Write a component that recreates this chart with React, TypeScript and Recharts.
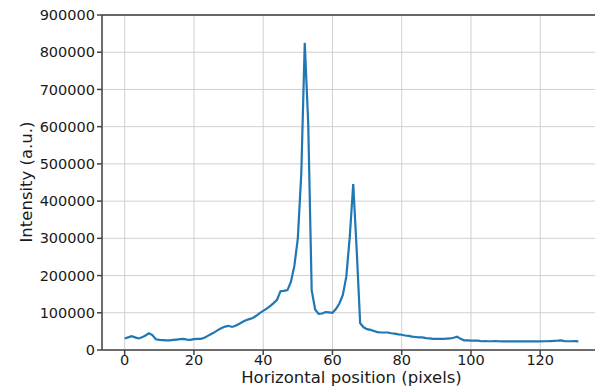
import { LineChart, Line, XAxis, YAxis, CartesianGrid, ReferenceLine, Label } from 'recharts'

// intensity profile, one value per pixel column (0..131)
const intensity = [
  31000, 34000, 37000, 34000, 31000, 34000, 39000, 45000, 40000, 29000,
  27000, 26500, 26000, 26000, 27000, 28000, 29000, 30000, 28000, 27000,
  29000, 30000, 30000, 33000, 38000, 43000, 48000, 54000, 59000, 63000,
  65000, 62000, 65000, 70000, 75000, 80000, 83000, 86000, 92000, 99000,
  105000, 111000, 118000, 126000, 135000, 158000, 159000, 161000, 183000, 226000,
  300000, 474000, 825000, 609000, 161000, 109000, 97000, 98000, 102000, 101000,
  100000, 110000, 125000, 148000, 197000, 304000, 446000, 269000, 72000, 61000,
  56000, 54000, 51000, 48000, 47000, 47000, 47000, 45000, 44000, 42000,
  41000, 39000, 38000, 36000, 35000, 34000, 34000, 32000, 31000, 30000,
  30000, 30000, 30000, 30500, 31000, 33000, 36000, 30000, 26000, 26000,
  25000, 25000, 25000, 23500, 24000, 23500, 23500, 24000, 23500, 23000,
  23000, 23000, 23000, 23000, 23000, 23000, 23000, 23000, 23000, 23000,
  23000, 23500, 23500, 24000, 24500, 25000, 26000, 24000, 23500, 23500,
  24000, 23000,
]

const xTicks = [0, 20, 40, 60, 80, 100, 120]
const yTicks = [0, 100000, 200000, 300000, 400000, 500000, 600000, 700000, 800000, 900000]

const data = intensity.map((v, i) => ({ pos: i, value: v }))

const font = "'DejaVu Sans', sans-serif"
const tick = { fontSize: 14.5, fill: '#1a1a1a', fontFamily: font }

const YTitle = () => (
  <text
    transform="translate(32,182) rotate(-90)"
    textAnchor="middle"
    fontSize={16.5}
    fontFamily={font}
    fill="#1a1a1a"
  >
    Intensity (a.u.)
  </text>
)

export default function App() {
  return (
    <div style={{ position: 'absolute', left: 0, top: 0, width: 595, height: 388, overflow: 'hidden', background: '#fff' }}>
      <LineChart width={601} height={388} data={data} margin={{ top: 15, right: 0, bottom: 0, left: 0 }}>
        <CartesianGrid stroke="#d0d0d0" strokeWidth={1} />
        <XAxis
          dataKey="pos"
          type="number"
          domain={[-6.55, 137.55]}
          ticks={xTicks}
          height={38}
          tick={tick}
          tickSize={5}
          tickMargin={0}
          stroke="#444"
          strokeWidth={1.5}
          allowDataOverflow
        >
          <Label
            value="Horizontal position (pixels)"
            position="insideBottom"
            offset={5}
            style={{ fontSize: 16.5, fill: '#1a1a1a', fontFamily: font }}
          />
        </XAxis>
        <YAxis
          type="number"
          domain={[0, 900000]}
          ticks={yTicks}
          width={102}
          tick={tick}
          tickSize={5}
          tickMargin={2}
          stroke="#444"
          strokeWidth={1.5}
          interval={0}
          label={<YTitle />}
        />
        <ReferenceLine y={900000} stroke="#666" strokeWidth={2} ifOverflow="visible" />
        <Line
          type="linear"
          dataKey="value"
          stroke="#1f77b4"
          strokeWidth={2.2}
          dot={false}
          isAnimationActive={false}
        />
      </LineChart>
    </div>
  )
}
